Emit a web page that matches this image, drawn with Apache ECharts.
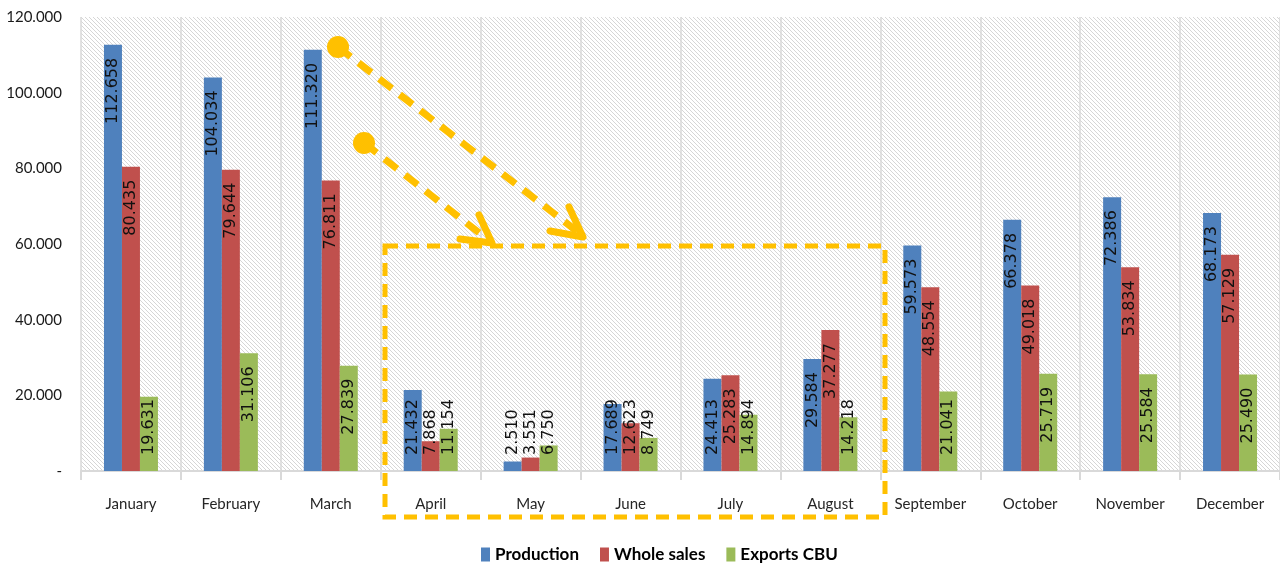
<!DOCTYPE html>
<html>
<head>
<meta charset="utf-8">
<script src="https://cdn.jsdelivr.net/npm/echarts@6/dist/echarts.min.js"></script>
<style>
  html, body { margin: 0; padding: 0; background: #fff; }
  #chart { width: 1280px; height: 565px; }
</style>
</head>
<body>
<div id="chart"></div>
<script>
'use strict';
// 月份
let months = ['January', 'February', 'March', 'April', 'May', 'June', 'July', 'August', 'September', 'October', 'November', 'December'];
let seriesNames = ['Production', 'Whole sales', 'Exports CBU'];
let production = [112658, 104034, 111320, 21432, 2510, 17689, 24413, 29584, 59573, 66378, 72386, 68173];
let wholeSales = [80435, 79644, 76811, 7868, 3551, 12623, 25283, 37277, 48554, 49018, 53834, 57129];
let exportsCbu = [19631, 31106, 27839, 11154, 6750, 8749, 14894, 14218, 21041, 25719, 25584, 25490];
let yTicks = [0, 20000, 40000, 60000, 80000, 100000, 120000];
let colors = ['#4F81BD', '#C0504D', '#9BBB59'];
let axisFont = 'Lato, "Liberation Sans", sans-serif';

// 千位用点分隔
function fmt(v) {
    return String(v).replace(/\B(?=(\d{3})+(?!\d))/g, '.');
}

// 斜线底纹
function hatch() {
    let c = document.createElement('canvas');
    c.width = 4;
    c.height = 4;
    let ctx = c.getContext('2d');
    ctx.fillStyle = '#ffffff';
    ctx.fillRect(0, 0, 4, 4);
    ctx.fillStyle = '#d6d6d6';
    for (let i = 0; i < 4; i++) {
        ctx.fillRect(i, i, 1, 1);
    }
    return c;
}

let myChart = echarts.init(document.getElementById('chart'));

function buildSeries(name, values, color) {
    let data = values.map(function(v) {
        // 柱子太短时标签贴底
        if (v < 25000) {
            return {value: v, label: {position: 'insideBottom', align: 'left', distance: 16}};
        }
        return {value: v, label: {position: 'insideTop', align: 'right', distance: 13}};
    });
    return {
        name: name,
        type: 'bar',
        data: data,
        barWidth: 18,
        barGap: '0%',
        itemStyle: {color: color},
        label: {
            show: true,
            rotate: 90,
            verticalAlign: 'middle',
            fontFamily: 'DejaVu Sans',
            fontSize: 16,
            color: '#111',
            formatter: function(p) {
                return fmt(p.value);
            },
        },
    };
}

let arrowStyle = {stroke: '#FFC000', lineWidth: 7, lineDash: [16, 10], lineCap: 'butt'};
let headStyle = {stroke: '#FFC000', lineWidth: 7, lineCap: 'round', lineJoin: 'round', fill: null};

let option = {
    backgroundColor: '#fff',
    animation: false,
    grid: {
        left: 81,
        top: 17,
        width: 1205,
        height: 454,
        show: true,
        borderWidth: 0,
        backgroundColor: {image: hatch(), repeat: 'repeat'},
    },
    legend: {
        data: seriesNames,
        top: 541,
        left: 476,
        icon: 'rect',
        itemWidth: 9,
        itemHeight: 14,
        itemGap: 21,
        textStyle: {
            fontFamily: axisFont,
            fontWeight: 'bold',
            fontSize: 17,
            color: '#000',
        },
    },
    xAxis: {
        type: 'category',
        data: months,
        axisLine: {lineStyle: {color: '#d9d9d9', width: 2}},
        axisTick: {show: true, interval: 0, length: 9, lineStyle: {color: '#d9d9d9', width: 2}},
        splitLine: {show: true, interval: 0, lineStyle: {color: '#d9d9d9', width: 1.5}},
        axisLabel: {
            interval: 0,
            margin: 26,
            fontFamily: axisFont,
            fontSize: 15,
            color: '#262626',
        },
    },
    yAxis: {
        type: 'value',
        min: yTicks[0],
        max: yTicks[yTicks.length - 1],
        interval: yTicks[1] - yTicks[0],
        splitLine: {show: false},
        axisLine: {show: false},
        axisTick: {show: false},
        axisLabel: {
            margin: 19,
            fontFamily: axisFont,
            fontSize: 15,
            color: '#1a1a1a',
            formatter: function(v) {
                return v === 0 ? '-' : fmt(v);
            },
        },
    },
    series: [
        buildSeries(seriesNames[0], production, colors[0]),
        buildSeries(seriesNames[1], wholeSales, colors[1]),
        buildSeries(seriesNames[2], exportsCbu, colors[2]),
    ],
    // 注释：虚线箭头和虚线框
    graphic: [
        {type: 'rect', shape: {x: 385, y: 246, width: 500, height: 271}, style: {stroke: '#FFC000', lineWidth: 5, lineDash: [13, 8], fill: null}, z: 100},
        {type: 'line', shape: {x1: 338, y1: 47, x2: 578, y2: 232}, style: arrowStyle, z: 100},
        {type: 'polyline', shape: {points: [[569, 207], [583, 237], [550, 231]]}, style: headStyle, z: 100},
        {type: 'circle', shape: {cx: 338, cy: 47, r: 11}, style: {fill: '#FFC000'}, z: 100},
        {type: 'line', shape: {x1: 364, y1: 143, x2: 487, y2: 239}, style: arrowStyle, z: 100},
        {type: 'polyline', shape: {points: [[479, 215], [492, 243], [460, 239]]}, style: headStyle, z: 100},
        {type: 'circle', shape: {cx: 364, cy: 143, r: 11}, style: {fill: '#FFC000'}, z: 100},
    ],
};

myChart.setOption(option);
</script>
</body>
</html>
